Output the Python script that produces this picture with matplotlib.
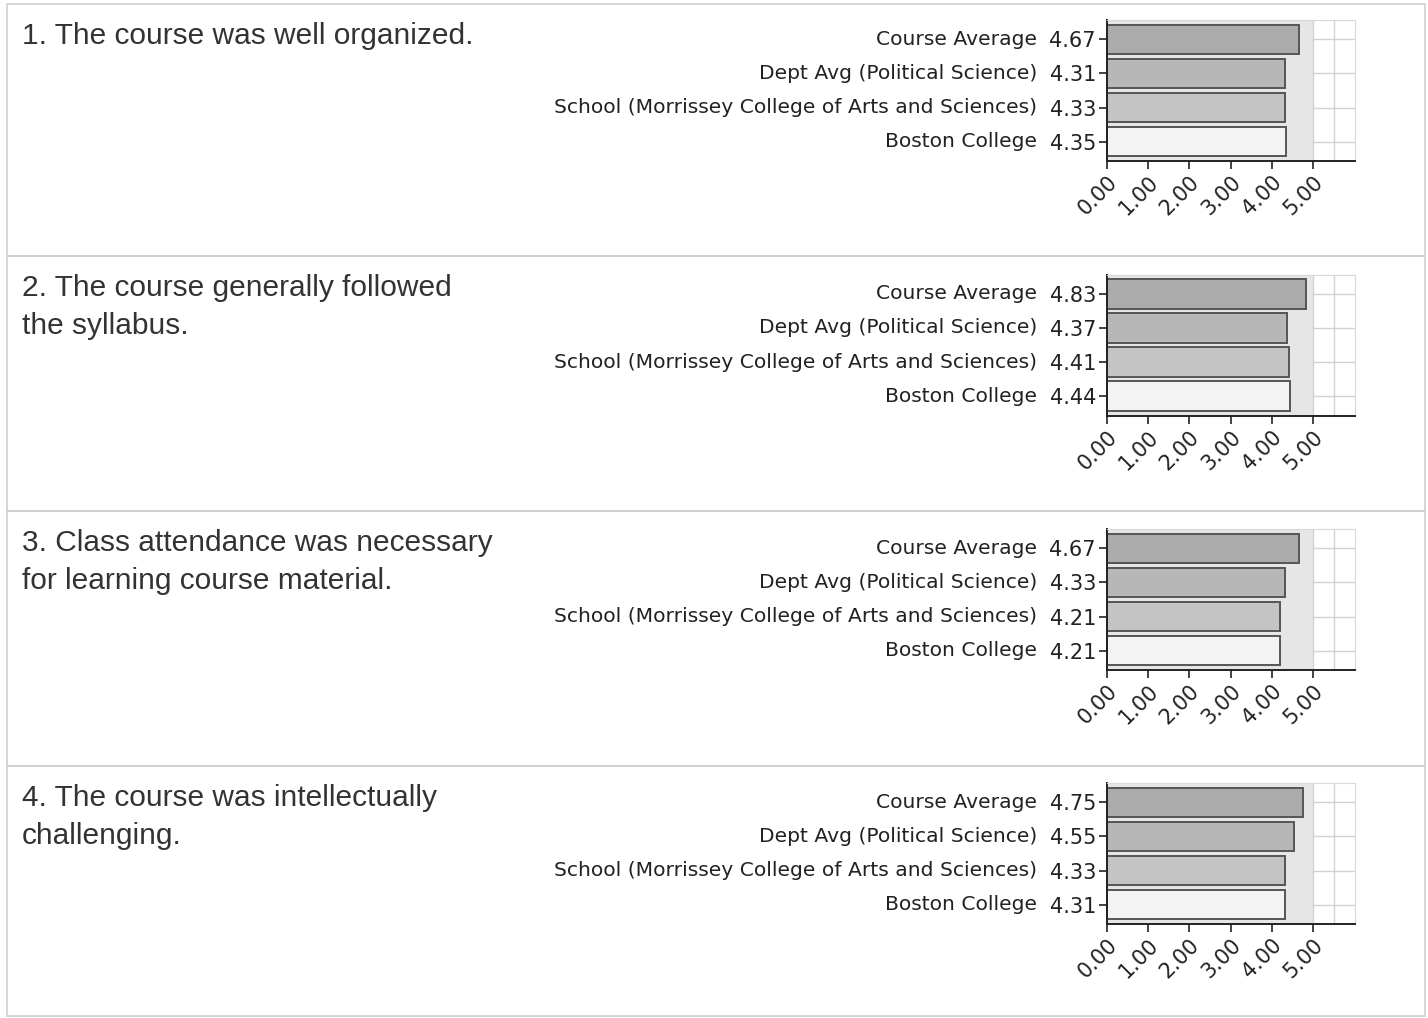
import matplotlib
matplotlib.use('Agg')
import matplotlib.pyplot as plt
from matplotlib.patches import Rectangle
from matplotlib.transforms import blended_transform_factory

questions = ['1. The course was well organized.',
             '2. The course generally followed\nthe syllabus.',
             '3. Class attendance was necessary\nfor learning course material.',
             '4. The course was intellectually\nchallenging.']
groups = ['Course Average', 'Dept Avg (Political Science)',
          'School (Morrissey College of Arts and Sciences)', 'Boston College']
scores = [[4.67, 4.31, 4.33, 4.35],
          [4.83, 4.37, 4.41, 4.44],
          [4.67, 4.33, 4.21, 4.21],
          [4.75, 4.55, 4.33, 4.31]]
xticks = [0, 1, 2, 3, 4, 5]
xtick_labels = ['0.00', '1.00', '2.00', '3.00', '4.00', '5.00']

bar_colors = ['#ababab', '#b7b7b7', '#c4c4c4', '#f3f3f3']
W, H = 1428, 1018
LBL = 'DejaVu Sans'

fig = plt.figure(figsize=(W / 100, H / 100), dpi=100)
fig.patch.set_facecolor('white')

def px(x0, y0, w, h):
    # pixel box (top-left origin) -> figure fraction
    return [x0 / W, 1 - (y0 + h) / H, w / W, h / H]

# panel frames + question text
bg = fig.add_axes([0, 0, 1, 1])
bg.set_xlim(0, W)
bg.set_ylim(H, 0)
bg.axis('off')
panel_top = [4, 256, 511, 766]
for i, top in enumerate(panel_top):
    bottom = panel_top[i + 1] if i < 3 else 1016
    bg.add_patch(Rectangle((7, top), 1418, bottom - top, fill=False,
                           edgecolor='#cfcfcf', lw=1.2))
    bg.text(22, top + 40, questions[i].split('\n')[0], fontsize=21.5,
            family='Liberation Sans', color='#333333', va='baseline', ha='left')
    if '\n' in questions[i]:
        bg.text(22, top + 78, questions[i].split('\n')[1], fontsize=21.5,
                family='Liberation Sans', color='#333333', va='baseline', ha='left')

offsets = [0, 254.5, 509, 763]
for i, off in enumerate(offsets):
    ax = fig.add_axes(px(1107, 20 + off, 248, 141))
    ax.set_xlim(0, 6.02)
    ax.set_ylim(3.57, -0.57)
    ax.add_patch(Rectangle((0, -0.57), 5.0, 4.14, facecolor='#e6e6e6',
                           edgecolor='none', zorder=0))
    for gx in [5.0, 5.5]:
        ax.axvline(gx, color='#d2d2d2', lw=1, zorder=1)
    for gy in range(4):
        ax.axhline(gy, xmin=5.0 / 6.02, color='#d2d2d2', lw=1, zorder=1)
    ax.barh(range(4), scores[i], height=0.86, color=bar_colors,
            edgecolor='#555555', lw=1.4, zorder=2)
    ax.set_yticks(range(4))
    ax.set_yticklabels(['%.2f' % v for v in scores[i]], family=LBL,
                       fontsize=15, color='#222222')
    ax.set_xticks(xticks)
    ax.set_xticklabels(xtick_labels, rotation=45, ha='right', va='top',
                       rotation_mode='anchor', family=LBL, fontsize=15,
                       color='#222222')
    ax.tick_params(axis='both', length=6, width=1.2, color='#222222', pad=2)
    for s in ['top', 'right']:
        ax.spines[s].set_color('#d8d8d8')
    for s in ['left', 'bottom']:
        ax.spines[s].set_color('#222222')
        ax.spines[s].set_linewidth(1.4)
    tr = blended_transform_factory(fig.transFigure, ax.transData)
    for j, g in enumerate(groups):
        ax.text(1037 / W, j, g, transform=tr, ha='right', va='center',
                family=LBL, fontsize=14.6, color='#222222')

fig.savefig('out.png', dpi=100, facecolor='white')
